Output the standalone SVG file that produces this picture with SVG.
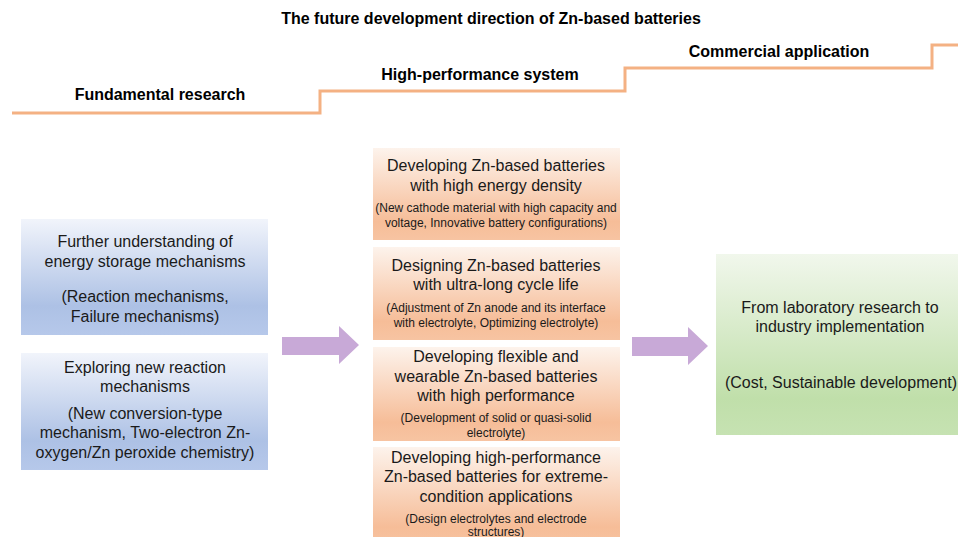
<svg xmlns="http://www.w3.org/2000/svg" width="958" height="537" viewBox="0 0 958 537">
<defs>
<linearGradient id="gBlue" x1="0" y1="0" x2="0" y2="1">
<stop offset="0" stop-color="#f1f4fb"/>
<stop offset="0.75" stop-color="#adc1e5"/>
<stop offset="1" stop-color="#b6c8ea"/>
</linearGradient>
<linearGradient id="gOrange" x1="0" y1="0" x2="0" y2="1">
<stop offset="0" stop-color="#fdf3ec"/>
<stop offset="0.8" stop-color="#f6bd98"/>
<stop offset="1" stop-color="#f7c4a2"/>
</linearGradient>
<linearGradient id="gGreen" x1="0" y1="0" x2="0" y2="1">
<stop offset="0" stop-color="#f1f7ec"/>
<stop offset="0.8" stop-color="#c0dfaa"/>
<stop offset="1" stop-color="#c6e2b2"/>
</linearGradient>
</defs>
<style>
.hd{font-family:"Liberation Sans",Arial,sans-serif;font-weight:bold;font-size:16px;fill:#000;text-anchor:middle}
.t{font-family:"Liberation Sans",Arial,sans-serif;font-size:16px;fill:#1a1a1a;text-anchor:middle}
.s{font-family:"Liberation Sans",Arial,sans-serif;font-size:12px;fill:#1a1a1a;text-anchor:middle}
.stair{fill:none;stroke:#f4b183;stroke-width:3}
.arrow{fill:#c8a9d7}
</style>
<rect width="958" height="537" fill="#fff"/>
<g id="title">
<text class="hd" x="491" y="24">The future development direction of Zn-based batteries</text>
</g>
<g id="stairs">
<polyline class="stair" points="12,113 320,113 320,91 625,91 625,68 932,68 932,45 958,45"/>
<text class="hd" x="160" y="100">Fundamental research</text>
<text class="hd" x="480" y="80">High-performance system</text>
<text class="hd" x="779" y="57">Commercial application</text>
</g>
<g id="node-understanding">
<rect x="21" y="219" width="247" height="116" fill="url(#gBlue)"/>
<text class="t" x="145" y="247">Further understanding of</text>
<text class="t" x="145" y="267">energy storage mechanisms</text>
<text class="t" x="145" y="302">(Reaction mechanisms,</text>
<text class="t" x="145" y="322">Failure mechanisms)</text>
</g>
<g id="node-exploring">
<rect x="21" y="353" width="247" height="117" fill="url(#gBlue)"/>
<text class="t" x="145" y="373">Exploring new reaction</text>
<text class="t" x="145" y="392">mechanisms</text>
<text class="t" x="145" y="419">(New conversion-type</text>
<text class="t" x="145" y="438">mechanism, Two-electron Zn-</text>
<text class="t" x="145" y="458">oxygen/Zn peroxide chemistry)</text>
</g>
<g id="node-energy-density">
<rect x="373" y="148" width="247" height="92" fill="url(#gOrange)"/>
<text class="t" x="496" y="171">Developing Zn-based batteries</text>
<text class="t" x="496" y="191">with high energy density</text>
<text class="s" x="496" y="212">(New cathode material with high capacity and</text>
<text class="s" x="496" y="227">voltage, Innovative battery configurations)</text>
</g>
<g id="node-cycle-life">
<rect x="373" y="247" width="247" height="93" fill="url(#gOrange)"/>
<text class="t" x="496" y="271">Designing Zn-based batteries</text>
<text class="t" x="496" y="290">with ultra-long cycle life</text>
<text class="s" x="496" y="312">(Adjustment of Zn anode and its interface</text>
<text class="s" x="496" y="327">with electrolyte, Optimizing electrolyte)</text>
</g>
<g id="node-flexible">
<rect x="373" y="347" width="247" height="94" fill="url(#gOrange)"/>
<text class="t" x="496" y="362">Developing flexible and</text>
<text class="t" x="496" y="382">wearable Zn-based batteries</text>
<text class="t" x="496" y="401">with high performance</text>
<text class="s" x="496" y="422">(Development of solid or quasi-solid</text>
<text class="s" x="496" y="437">electrolyte)</text>
</g>
<g id="node-extreme">
<rect x="373" y="447" width="247" height="100" fill="url(#gOrange)"/>
<text class="t" x="496" y="463">Developing high-performance</text>
<text class="t" x="496" y="482">Zn-based batteries for extreme-</text>
<text class="t" x="496" y="502">condition applications</text>
<text class="s" x="496" y="523">(Design electrolytes and electrode</text>
<text class="s" x="496" y="536">structures)</text>
</g>
<g id="node-commercial">
<rect x="716" y="254" width="242" height="181" fill="url(#gGreen)"/>
<text class="t" x="840" y="313">From laboratory research to</text>
<text class="t" x="840" y="332">industry implementation</text>
<text class="t" x="841" y="388">(Cost, Sustainable development)</text>
</g>
<g id="connectors">
<polygon class="arrow" points="282,337 339,337 339,326 359,345 339,364 339,355 282,355"/>
<polygon class="arrow" points="632,337 688,337 688,327 708,346 688,365 688,356 632,356"/>
</g>
</svg>
